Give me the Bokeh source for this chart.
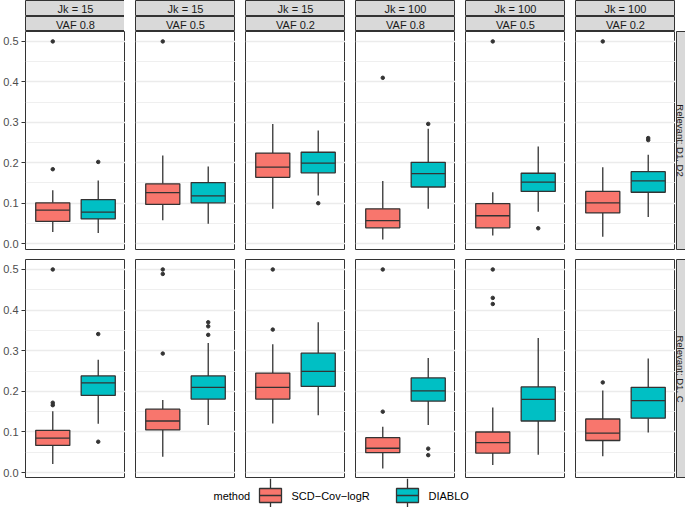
import numpy as np
from bokeh.plotting import figure
from bokeh.layouts import row, column
from bokeh.models import Range1d, FixedTicker, Grid, ColumnDataSource, Spacer, PrintfTickFormatter
from bokeh.core.properties import value
from bokeh.embed import file_html
from bokeh.resources import INLINE

# ---------------- data ----------------
jk_labels = ["Jk = 15", "Jk = 15", "Jk = 15", "Jk = 100", "Jk = 100", "Jk = 100"]
vaf_labels = ["VAF 0.8", "VAF 0.5", "VAF 0.2", "VAF 0.8", "VAF 0.5", "VAF 0.2"]
relevant_labels = ["Relevant: D1, D2", "Relevant: D1, C"]
methods = ["SCD\u2212Cov\u2212logR", "DIABLO"]
colors = ["#F8766D", "#00BFC4"]
legend_title = "method"
y_ticks = [0.0, 0.1, 0.2, 0.3, 0.4, 0.5]
y_minor = [0.05, 0.15, 0.25, 0.35, 0.45]

# panels ordered: row 1 (D1, D2) cols 1-6, then row 2 (D1, C) cols 1-6
scd_low = [0.029, 0.058, 0.086, 0.010, 0.020, 0.017, 0.021, 0.039, 0.121, 0.010, 0.019, 0.040]
scd_q1 = [0.055, 0.097, 0.164, 0.039, 0.039, 0.076, 0.067, 0.105, 0.181, 0.049, 0.048, 0.079]
scd_med = [0.083, 0.126, 0.189, 0.057, 0.069, 0.101, 0.085, 0.127, 0.210, 0.060, 0.074, 0.097]
scd_q3 = [0.101, 0.148, 0.224, 0.086, 0.099, 0.129, 0.104, 0.156, 0.245, 0.086, 0.100, 0.132]
scd_high = [0.132, 0.218, 0.296, 0.155, 0.127, 0.189, 0.151, 0.179, 0.316, 0.113, 0.160, 0.202]
scd_out = [[0.5, 0.184], [0.5], [], [0.410], [0.5], [0.5],
           [0.5, 0.172, 0.166], [0.5, 0.489, 0.293], [0.5, 0.352], [0.5, 0.150], [0.5, 0.430, 0.415], [0.222]]

dia_low = [0.026, 0.049, 0.119, 0.086, 0.079, 0.066, 0.120, 0.117, 0.141, 0.117, 0.044, 0.099]
dia_q1 = [0.061, 0.101, 0.175, 0.140, 0.129, 0.127, 0.190, 0.181, 0.212, 0.176, 0.127, 0.134]
dia_med = [0.078, 0.118, 0.199, 0.173, 0.152, 0.155, 0.221, 0.210, 0.249, 0.201, 0.180, 0.177]
dia_q3 = [0.109, 0.151, 0.226, 0.201, 0.174, 0.178, 0.238, 0.238, 0.294, 0.233, 0.211, 0.210]
dia_high = [0.156, 0.191, 0.280, 0.284, 0.240, 0.220, 0.278, 0.319, 0.370, 0.282, 0.331, 0.281]
dia_out = [[0.202], [], [0.100], [0.296], [0.038], [0.256, 0.261],
           [0.341, 0.076], [0.370, 0.360, 0.339], [], [0.059, 0.043], [], []]

# ---------------- style ----------------
FONT = value("Liberation Sans")
DARK = "#333333"
GRID = "#EBEBEB"
STRIP_FILL = "#D9D9D9"
BOX_W = 0.75
Y_RANGE = (-0.0145, 0.5245)
PANEL_W = 100
PANEL_H = [218, 219]
GAP_X = 10
AXIS_W = 24


def clear_grids(fig):
    for g in fig.grid:
        g.visible = False


def make_panel(k, r, c):
    left = AXIS_W if c == 0 else GAP_X
    p = figure(frame_width=PANEL_W, frame_height=PANEL_H[r],
               x_range=Range1d(0.4, 2.6), y_range=Range1d(*Y_RANGE),
               min_border_left=left, min_border_right=0, min_border_top=0,
               min_border_bottom=GAP_X if r == 0 else 0,
               toolbar_location=None, output_backend="svg", title=None,
               x_axis_location=None, y_axis_location="left" if c == 0 else None)
    p.background_fill_color = "white"
    p.border_fill_color = "white"
    p.outline_line_color = DARK
    p.outline_line_width = 1
    clear_grids(p)
    ticker = FixedTicker(ticks=y_ticks, minor_ticks=y_minor)
    p.add_layout(Grid(dimension=1, ticker=ticker, grid_line_color=GRID, grid_line_width=1.3,
                      minor_grid_line_color=GRID, minor_grid_line_width=0.8))
    if c == 0:
        ax = p.yaxis[0]
        ax.ticker = ticker
        ax.formatter = PrintfTickFormatter(format="%.1f")
        ax.axis_line_color = None
        ax.major_tick_line_color = DARK
        ax.major_tick_line_width = 1
        ax.major_tick_out = 4
        ax.major_tick_in = 0
        ax.minor_tick_line_color = None
        ax.major_label_text_font = "Liberation Sans"
        ax.major_label_text_font_size = "11px"
        ax.major_label_text_color = "#4D4D4D"
        ax.major_label_standoff = 3

    xs = np.array([1.0, 2.0])
    src = ColumnDataSource(dict(
        x=xs, xl=xs - BOX_W / 2, xr=xs + BOX_W / 2,
        low=[scd_low[k], dia_low[k]], q1=[scd_q1[k], dia_q1[k]],
        med=[scd_med[k], dia_med[k]], q3=[scd_q3[k], dia_q3[k]],
        high=[scd_high[k], dia_high[k]], color=colors))
    p.segment(x0="x", y0="q3", x1="x", y1="high", source=src, line_color=DARK, line_width=1.3)
    p.segment(x0="x", y0="q1", x1="x", y1="low", source=src, line_color=DARK, line_width=1.3)
    p.vbar(x="x", top="q3", bottom="q1", width=BOX_W, source=src,
           fill_color="color", line_color=DARK, line_width=1.3)
    p.segment(x0="xl", y0="med", x1="xr", y1="med", source=src, line_color=DARK, line_width=1.3)

    ox, oy = [], []
    for i, outs in enumerate([scd_out[k], dia_out[k]]):
        ox += [xs[i]] * len(outs)
        oy += outs
    p.scatter(x=ox, y=oy, size=3.5, fill_color=DARK, line_color=DARK)
    return p


def make_strip(label, c, bottom_gap):
    left = AXIS_W if c == 0 else GAP_X
    s = figure(frame_width=PANEL_W, frame_height=15, x_range=Range1d(0, 1), y_range=Range1d(0, 1),
               min_border_left=left, min_border_right=0, min_border_top=0, min_border_bottom=bottom_gap,
               toolbar_location=None, output_backend="svg", title=None,
               x_axis_location=None, y_axis_location=None)
    s.background_fill_color = STRIP_FILL
    s.border_fill_color = "white"
    s.outline_line_color = DARK
    s.outline_line_width = 1
    clear_grids(s)
    s.text(x=[0.5], y=[0.45], text=[label], text_align="center", text_baseline="middle",
           text_font=FONT, text_font_size="11px", text_color="#1A1A1A")
    return s


def make_rstrip(label, r):
    s = figure(frame_width=10, frame_height=PANEL_H[r], x_range=Range1d(0, 1), y_range=Range1d(0, 1),
               min_border_left=1, min_border_right=0, min_border_top=0,
               min_border_bottom=GAP_X if r == 0 else 0,
               toolbar_location=None, output_backend="svg", title=None,
               x_axis_location=None, y_axis_location=None)
    s.background_fill_color = STRIP_FILL
    s.border_fill_color = "white"
    s.outline_line_color = DARK
    s.outline_line_width = 1
    clear_grids(s)
    s.text(x=[0.4], y=[0.5], text=[label], angle=-np.pi / 2, text_align="center", text_baseline="middle",
           text_font=FONT, text_font_size="9.5px", text_color="#1A1A1A")
    return s


cols = []
for c in range(6):
    kids = [make_strip(jk_labels[c], c, 1), make_strip(vaf_labels[c], c, 0)]
    for r in range(2):
        kids.append(make_panel(r * 6 + c, r, c))
    cols.append(column(*kids))

rcol = column(Spacer(width=11, height=31), make_rstrip(relevant_labels[0], 0), make_rstrip(relevant_labels[1], 1))
grid = row(*cols, rcol)

# ---------------- legend ----------------
lg = figure(width=685, height=29, x_range=Range1d(0, 685), y_range=Range1d(507, 478),
            min_border=0, toolbar_location=None, output_backend="svg", title=None,
            x_axis_location=None, y_axis_location=None)
lg.outline_line_color = None
clear_grids(lg)
lg.text(x=[213], y=[495], text=[legend_title], text_align="left", text_baseline="middle",
        text_font=FONT, text_font_size="11px", text_color="black")
key_left = [259, 396]
text_left = [291, 428]
for i in range(2):
    cx = key_left[i] + 11
    lg.segment(x0=[cx, cx], y0=[478, 502], x1=[cx, cx], y1=[488, 510], line_color=DARK, line_width=1.3)
    lg.quad(left=[key_left[i]], right=[key_left[i] + 22], top=[488], bottom=[502],
            fill_color=colors[i], line_color=DARK, line_width=1.3)
    lg.segment(x0=[key_left[i]], y0=[495], x1=[key_left[i] + 22], y1=[495], line_color=DARK, line_width=1.3)
    lg.text(x=[text_left[i]], y=[495], text=[methods[i]], text_align="left", text_baseline="middle",
            text_font=FONT, text_font_size="11px", text_color="black")

p = column(grid, lg)

open("out.html", "w").write(file_html(p, INLINE))
